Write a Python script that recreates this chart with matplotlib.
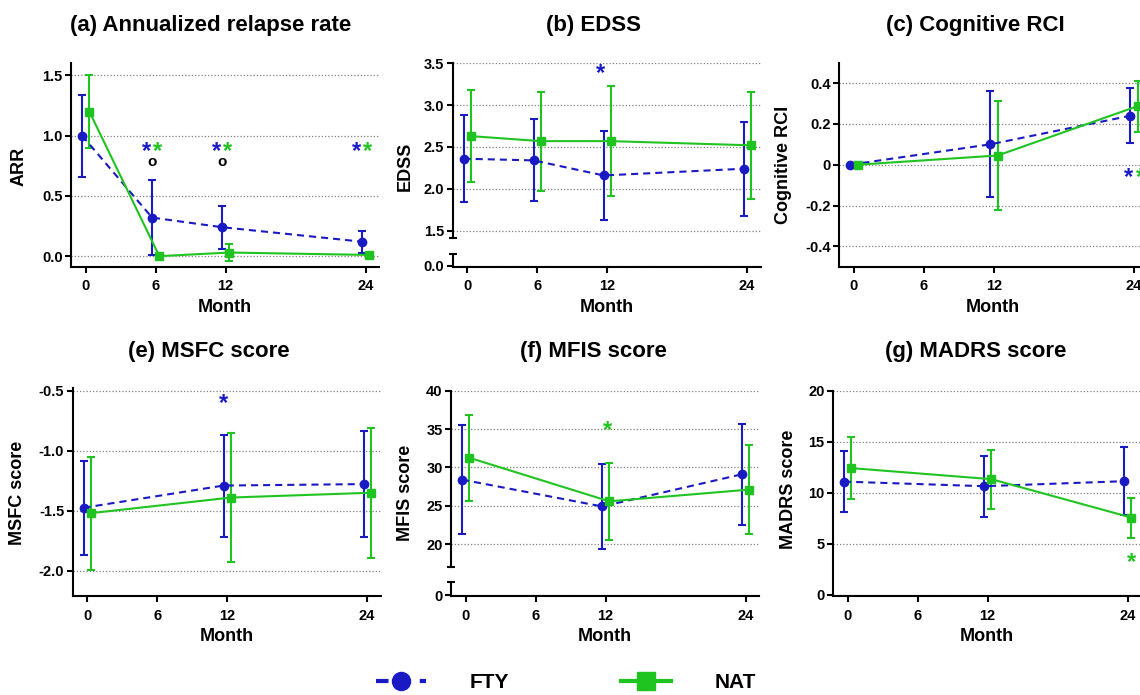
import numpy as np
import matplotlib
matplotlib.use("Agg")
import matplotlib.pyplot as plt
from matplotlib.lines import Line2D
from matplotlib.transforms import offset_copy

plt.rcParams["font.family"] = ["Liberation Sans", "DejaVu Sans"]
plt.rcParams["font.weight"] = "bold"
plt.rcParams["axes.labelweight"] = "bold"
plt.rcParams["axes.unicode_minus"] = False

W, H = 1140, 695
BLUE = "#1a1ac4"
GREEN = "#20c420"

months4 = [0, 6, 12, 24]
months3 = [0, 12, 24]

# (a) annualized relapse rate
arr_fty = [1.00, 0.32, 0.24, 0.12]
arr_fty_err = [0.34, 0.31, 0.18, 0.09]
arr_nat = [1.20, 0.00, 0.03, 0.01]
arr_nat_err = [0.30, 0.00, 0.07, 0.02]

# (b) EDSS
edss_fty = [2.36, 2.34, 2.16, 2.24]
edss_fty_err = [0.52, 0.49, 0.53, 0.56]
edss_nat = [2.63, 2.57, 2.57, 2.52]
edss_nat_err = [0.55, 0.59, 0.66, 0.64]

# (c) cognitive RCI
rci_fty = [0.0, 0.10, 0.24]
rci_fty_err = [0.0, 0.26, 0.135]
rci_nat = [0.0, 0.045, 0.287]
rci_nat_err = [0.0, 0.267, 0.125]

# (e) MSFC
msfc_fty = [-1.475, -1.29, -1.278]
msfc_fty_err = [0.39, 0.425, 0.44]
msfc_nat = [-1.52, -1.39, -1.35]
msfc_nat_err = [0.47, 0.54, 0.54]

# (f) MFIS
mfis_fty = [28.4, 24.9, 29.1]
mfis_fty_err = [7.1, 5.6, 6.6]
mfis_nat = [31.25, 25.57, 27.1]
mfis_nat_err = [5.6, 5.0, 5.85]

# (g) MADRS
madrs_fty = [11.1, 10.65, 11.14]
madrs_fty_err = [3.0, 3.0, 3.3]
madrs_nat = [12.42, 11.34, 7.58]
madrs_nat_err = [3.04, 2.9, 1.96]

fig = plt.figure(figsize=(W / 100, H / 100), dpi=100)


def add_ax(x0, y0, x1, y1):
    return fig.add_axes([x0 / W, 1 - y1 / H, (x1 - x0) / W, (y1 - y0) / H])


def style(ax, yticks, ylabels, xaxis=True):
    ax.spines["top"].set_visible(False)
    ax.spines["right"].set_visible(False)
    ax.spines["left"].set_linewidth(1.5)
    ax.spines["bottom"].set_linewidth(1.5)
    ax.set_xlim(-1.25, 25.15)
    ax.set_yticks(yticks)
    ax.set_yticklabels(ylabels)
    ax.tick_params(width=1.5, length=4, labelsize=10.5, pad=2)
    ax.tick_params(axis="x", length=4.5, pad=4.5)
    ax.yaxis.grid(True, ls=(0, (1, 1.6)), color="#808080", lw=0.9)
    ax.set_axisbelow(True)
    if xaxis:
        ax.set_xticks(months4)
        ax.set_xticklabels([str(m) for m in months4])
        ax.set_xlabel("Month", fontsize=13, labelpad=4)
    else:
        ax.spines["bottom"].set_visible(False)
        ax.set_xticks([])


def draw(ax, x, fty, fty_err, nat, nat_err):
    x = np.array(x, float)
    ax.errorbar(x - 0.3, fty, yerr=fty_err, fmt="none", ecolor=BLUE,
                elinewidth=1.5, capsize=3.2, capthick=1.5, zorder=3)
    ax.plot(x - 0.3, fty, color=BLUE, lw=1.5, ls=(0, (3.4, 2.4)),
            marker="o", ms=6, zorder=4)
    ax.errorbar(x + 0.32, nat, yerr=nat_err, fmt="none", ecolor=GREEN,
                elinewidth=1.5, capsize=3.2, capthick=1.5, zorder=3)
    ax.plot(x + 0.32, nat, color=GREEN, lw=1.5, marker="s", ms=6, zorder=5)


def brk(ax, where):
    w = 4 / (ax.get_position().width * W)
    ax.plot([-w, w], [where, where], transform=ax.transAxes, color="k",
            lw=1.5, clip_on=False, solid_capstyle="butt")


def star(ax, x, y, c, s="*", size=17, dy=-3.5):
    tr = offset_copy(ax.transData, fig=fig, x=0, y=dy, units="dots")
    ax.text(x, y, s, color=c, fontsize=size, ha="center", va="center",
            transform=tr)


def title(x, y, s):
    fig.text(x / W, 1 - y / H, s, fontsize=16, ha="center", va="baseline")


def ylab(x, y, s):
    fig.text(x / W, 1 - y / H, s, fontsize=13, rotation=90,
             ha="center", va="center")


# (a)
ax = add_ax(71, 63.3, 379, 267)
draw(ax, months4, arr_fty, arr_fty_err, arr_nat, arr_nat_err)
ax.set_ylim(-0.09, 1.6)
style(ax, [0, 0.5, 1.0, 1.5], ["0.0", "0.5", "1.0", "1.5"])
for m in [6, 12, 24]:
    star(ax, m - 0.8, 0.9, BLUE)
    star(ax, m + 0.15, 0.9, GREEN)
for m in [6, 12]:
    star(ax, m - 0.3, 0.78, "black", "o", 11, dy=0)

# (b) broken axis
ax = add_ax(452.5, 63.3, 760.5, 238.3)
draw(ax, months4, edss_fty, edss_fty_err, edss_nat, edss_nat_err)
ax.set_ylim(1.409, 3.5)
style(ax, [1.5, 2.0, 2.5, 3.0, 3.5], ["1.5", "2.0", "2.5", "3.0", "3.5"], xaxis=False)
brk(ax, 0)
star(ax, 12 - 0.6, 3.42, BLUE)
axl = add_ax(452.5, 254.3, 760.5, 267)
axl.set_ylim(-0.0155, 0.136)
style(axl, [0.0], ["0.0"])
brk(axl, 1)

# (c)
ax = add_ax(839.3, 62.7, 1147.3, 266.7)
draw(ax, months3, rci_fty, rci_fty_err, rci_nat, rci_nat_err)
ax.set_ylim(-0.5, 0.5)
style(ax, [-0.4, -0.2, 0, 0.2, 0.4], ["-0.4", "-0.2", "0", "0.2", "0.4"])
star(ax, 24 - 0.5, -0.046, BLUE)
star(ax, 24 + 0.55, -0.046, GREEN)

# (e)
ax = add_ax(72.5, 388.3, 380.5, 596)
draw(ax, months3, msfc_fty, msfc_fty_err, msfc_nat, msfc_nat_err)
ax.set_ylim(-2.21, -0.48)
style(ax, [-2.0, -1.5, -1.0, -0.5], ["-2.0", "-1.5", "-1.0", "-0.5"])
star(ax, 12 - 0.3, -0.578, BLUE)

# (f) broken axis
ax = add_ax(451, 390.7, 759, 566.7)
draw(ax, months3, mfis_fty, mfis_fty_err, mfis_nat, mfis_nat_err)
ax.set_ylim(17.04, 40)
style(ax, [20, 25, 30, 35, 40], ["20", "25", "30", "35", "40"], xaxis=False)
brk(ax, 0)
star(ax, 12 + 0.2, 35.3, GREEN)
axl = add_ax(451, 582.3, 759, 596)
axl.set_ylim(-0.09, 1.70)
style(axl, [0], ["0"])
brk(axl, 1)

# (g)
ax = add_ax(833, 390.7, 1141, 596)
draw(ax, months3, madrs_fty, madrs_fty_err, madrs_nat, madrs_nat_err)
ax.set_ylim(-0.1, 20)
style(ax, [0, 5, 10, 15, 20], ["0", "5", "10", "15", "20"])
star(ax, 24 + 0.32, 3.56, GREEN)

title(211, 30.7, "(a) Annualized relapse rate")
title(594, 30.7, "(b) EDSS")
title(975, 30.7, "(c) Cognitive RCI")
title(209, 356.7, "(e) MSFC score")
title(593, 356.7, "(f) MFIS score")
title(976, 356.7, "(g) MADRS score")

ylab(19, 166, "ARR")
ylab(405, 166, "EDSS")
ylab(783, 165, "Cognitive RCI")
ylab(18, 493, "MSFC score")
ylab(405.5, 493, "MFIS score")
ylab(788.5, 489, "MADRS score")

h_fty = Line2D([], [], color=BLUE, lw=3, ls=(0, (3, 7.5)), marker="o", ms=13)
h_nat = Line2D([], [], color=GREEN, lw=3, marker="s", ms=13)
fig.legend([h_fty, h_nat], ["FTY", "NAT"], loc="center",
           bbox_to_anchor=(566 / W, 1 - 683 / H), ncol=2, frameon=False,
           fontsize=15, handlelength=2.4, handletextpad=2.1, columnspacing=5.4)

fig.savefig("out.png", dpi=100)
